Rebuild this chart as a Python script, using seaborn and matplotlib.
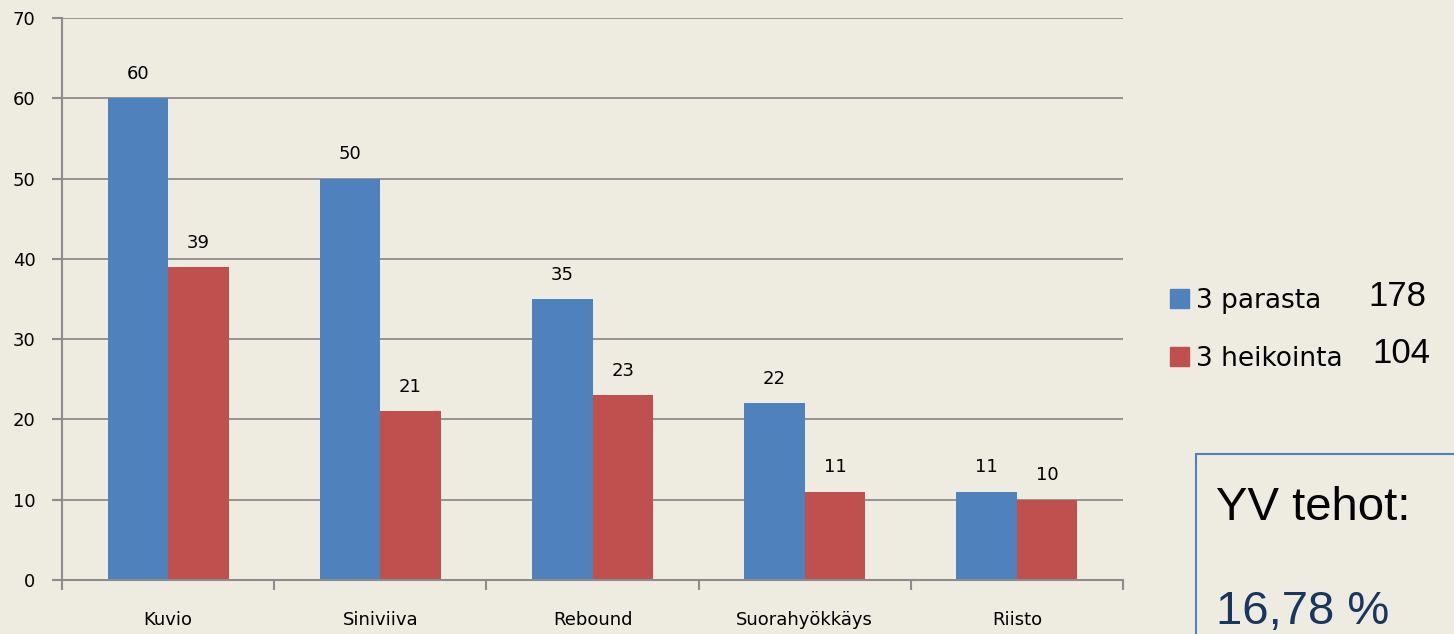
import pandas as pd
import matplotlib.pyplot as plt
import matplotlib.patches as mpatches
import seaborn as sns

# Data
kategoriat = ['Kuvio', 'Siniviiva', 'Rebound', 'Suorahyökkäys', 'Riisto']
parasta = [60, 50, 35, 22, 11]
heikointa = [39, 21, 23, 11, 10]
sarjat = ['3 parasta', '3 heikointa']
summat = [178, 104]
teho = '16,78 %'

df = pd.DataFrame({
    'kategoria': kategoriat * 2,
    'arvo': parasta + heikointa,
    'sarja': [sarjat[0]] * len(kategoriat) + [sarjat[1]] * len(kategoriat),
})

tausta = '#EEEBE0'
varit = ['#4F81BD', '#C0504D']
harmaa = '#8C8C8C'

sns.set_style('white')
plt.rcParams['font.family'] = ['DejaVu Sans']
plt.rcParams['text.color'] = 'black'
plt.rcParams['xtick.color'] = harmaa
plt.rcParams['ytick.color'] = harmaa
plt.rcParams['xtick.labelcolor'] = 'black'
plt.rcParams['ytick.labelcolor'] = 'black'

fig = plt.figure(figsize=(14.54, 6.34), dpi=100, facecolor=tausta)
ax = fig.add_axes([0.0426, 0.0852, 0.7298, 0.8864])
ax.set_facecolor(tausta)

sns.barplot(data=df, x='kategoria', y='arvo', hue='sarja', palette=varit,
            width=0.57, dodge=True, saturation=1, ax=ax, legend=False,
            edgecolor='none')

for c in ax.containers:
    ax.bar_label(c, padding=11, fontsize=13, color='black')

ax.set_ylim(0, 70)
ax.set_yticks(range(0, 71, 10))
ax.set_xlim(-0.5, len(kategoriat) - 0.5)
ax.yaxis.grid(True, color=harmaa, linewidth=1.3)
ax.set_axisbelow(True)
ax.set_xlabel('')
ax.set_ylabel('')
for s in ['top', 'right']:
    ax.spines[s].set_visible(False)
for s in ['left', 'bottom']:
    ax.spines[s].set_color(harmaa)
    ax.spines[s].set_linewidth(1.5)

# x-ticks at category boundaries, labels centered
ax.set_xticks([i + 0.5 for i in range(-1, len(kategoriat))], minor=False)
ax.set_xticklabels([])
ax.set_xticks(range(len(kategoriat)), minor=True)
ax.set_xticklabels(kategoriat, minor=True, fontsize=13)
ax.tick_params(axis='x', which='major', bottom=True, direction='out', length=7,
               width=1.5, color=harmaa)
ax.tick_params(axis='x', which='minor', bottom=True, length=0, pad=22,
               labelcolor='black')
ax.tick_params(axis='y', left=True, direction='out', length=7, width=1.5,
               color=harmaa, labelsize=13, pad=12, labelcolor='black')

# Legend
kahvat = [mpatches.Patch(color=v, label=s) for v, s in zip(varit, sarjat)]
fig.legend(handles=kahvat, loc='upper left', bbox_to_anchor=(0.788, 0.583),
           frameon=False, fontsize=19, handlelength=0.72, handleheight=0.72,
           handletextpad=0.3, labelspacing=1.2, labelcolor='black')
fig.text(0.941, 0.518, str(summat[0]), fontsize=25, family='Liberation Sans')
fig.text(0.944, 0.428, str(summat[1]), fontsize=25, family='Liberation Sans')

# Box
laatikko = mpatches.Rectangle((0.8226, -0.05), 0.3, 0.334, transform=fig.transFigure,
                              facecolor='none', edgecolor='#4F81BD', linewidth=1.5,
                              clip_on=False)
fig.patches.append(laatikko)
fig.text(0.836, 0.180, 'YV tehot:', fontsize=34, family='Liberation Sans', color='black')
fig.text(0.836, 0.016, teho, fontsize=34, family='Liberation Sans', color='#17375E')

fig.savefig('out.png', dpi=100, facecolor=tausta)
